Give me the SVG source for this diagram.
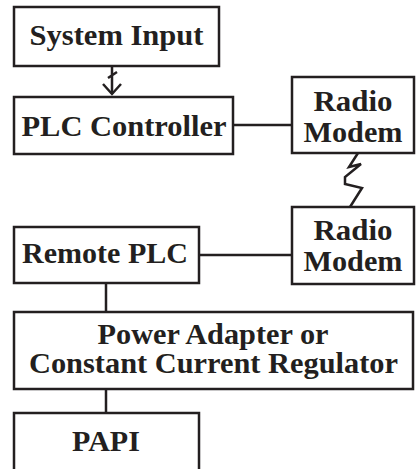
<svg xmlns="http://www.w3.org/2000/svg" width="416" height="469" viewBox="0 0 416 469">
<style>
.box{fill:#fff;stroke:#231f20;stroke-width:2.5}
.t{font-family:'Liberation Serif','Times New Roman',Times,serif;font-weight:700;font-size:30px;fill:#231f20;text-anchor:middle}
.s{font-size:29px}
.c{fill:none;stroke:#231f20;stroke-width:2.5}
</style>
<rect width="416" height="469" fill="#fff"/>
<g id="connectors">
<path class="c" d="M112 66 V75 M108 78 L117 72 M112 75 V94"/>
<path class="c" d="M103 84 L112 94 L121 84"/>
<path class="c" d="M233 125 H292"/>
<polyline class="c" points="358,153 349,167 361,164 345,177 345,184 362,188 350,207"/>
<path class="c" d="M199 255 H292"/>
<path class="c" d="M106 283 V312"/>
<path class="c" d="M106 389 V413"/>
</g>
<g id="system-input">
<rect class="box" x="14" y="7" width="205" height="59"/>
<text class="t" x="116.5" y="45" textLength="174" lengthAdjust="spacingAndGlyphs">System Input</text>
</g>
<g id="plc-controller">
<rect class="box" x="14" y="97" width="219" height="57"/>
<text class="t" x="124" y="136" textLength="205" lengthAdjust="spacingAndGlyphs">PLC Controller</text>
</g>
<g id="radio-modem-1">
<rect class="box" x="292" y="77" width="122" height="76"/>
<text class="t" x="353" y="111" textLength="79" lengthAdjust="spacingAndGlyphs">Radio</text>
<text class="t" x="353" y="142" textLength="99" lengthAdjust="spacingAndGlyphs">Modem</text>
</g>
<g id="radio-modem-2">
<rect class="box" x="292" y="207" width="122" height="77"/>
<text class="t" x="353" y="240" textLength="79" lengthAdjust="spacingAndGlyphs">Radio</text>
<text class="t" x="353" y="271" textLength="99" lengthAdjust="spacingAndGlyphs">Modem</text>
</g>
<g id="remote-plc">
<rect class="box" x="14" y="227" width="185" height="56"/>
<text class="t" x="105" y="263" textLength="166" lengthAdjust="spacingAndGlyphs">Remote PLC</text>
</g>
<g id="power-adapter">
<rect class="box" x="14" y="312" width="399" height="77"/>
<text class="t s" x="213" y="344" textLength="231" lengthAdjust="spacingAndGlyphs">Power Adapter or</text>
<text class="t s" x="213.5" y="373" textLength="369" lengthAdjust="spacingAndGlyphs">Constant Current Regulator</text>
</g>
<g id="papi">
<rect class="box" x="14" y="413" width="185" height="70"/>
<text class="t" x="106" y="451">PAPI</text>
</g>
</svg>
